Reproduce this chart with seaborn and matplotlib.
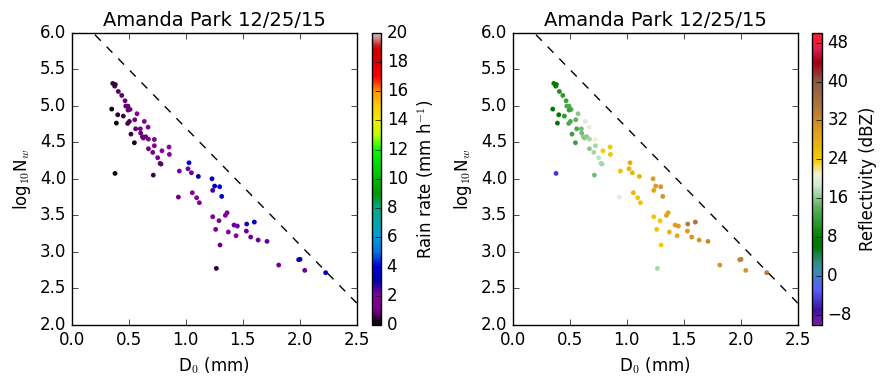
import matplotlib
matplotlib.use('Agg')
import matplotlib.pyplot as plt
import seaborn as sns
import numpy as np
import pandas as pd
from matplotlib.colors import LinearSegmentedColormap, Normalize
import matplotlib.cm as cm

# ---- data ----
d0 = [0.360, 0.383, 0.377, 0.409, 0.439, 0.468, 0.474, 0.494, 0.512, 0.494,
      0.351, 0.404, 0.453, 0.392, 0.491, 0.506, 0.573, 0.553, 0.637, 0.561,
      0.602, 0.670, 0.520, 0.605, 0.620, 0.629, 0.649, 0.673, 0.725, 0.550,
      0.725, 0.673, 0.711, 0.792, 0.854, 0.857, 0.754, 0.775, 0.784, 0.380,
      0.716, 0.944, 1.020, 1.050, 1.029, 1.111, 1.231, 1.254, 1.298, 1.237,
      1.316, 0.936, 1.058, 1.096, 1.120, 1.237, 1.263, 1.292, 1.348, 1.363,
      1.374, 1.424, 1.453, 1.535, 1.442, 1.532, 1.570, 1.635, 1.713, 1.602,
      1.301, 1.269, 1.816, 1.991, 2.003, 2.044, 2.228]
lognw = [5.307, 5.293, 5.270, 5.197, 5.143, 5.070, 4.997, 4.997, 4.951, 4.942,
         4.956, 4.878, 4.860, 4.764, 4.759, 4.787, 4.892, 4.810, 4.787, 4.686,
         4.686, 4.709, 4.613, 4.627, 4.577, 4.559, 4.577, 4.545, 4.540, 4.495,
         4.454, 4.413, 4.363, 4.385, 4.436, 4.335, 4.290, 4.212, 4.203, 4.075,
         4.052, 4.107, 4.139, 4.084, 4.221, 4.034, 4.002, 3.902, 3.893, 3.843,
         3.761, 3.751, 3.811, 3.742, 3.674, 3.482, 3.309, 3.428, 3.501, 3.537,
         3.273, 3.368, 3.355, 3.382, 3.222, 3.286, 3.204, 3.163, 3.145, 3.409,
         3.095, 2.775, 2.821, 2.894, 2.899, 2.748, 2.716]
rain = [0.5, 0.6, 0.5, 0.8, 0.8, 0.9, 0.9, 0.9, 0.9, 0.9,
        0.2, 0.3, 0.6, 0.2, 0.7, 0.7, 1.8, 1.2, 2.0, 0.8,
        1.2, 1.8, 0.6, 0.9, 1.0, 1.0, 1.0, 1.3, 1.9, 0.3,
        1.7, 1.2, 1.2, 2.0, 2.0, 2.0, 1.3, 1.0, 0.8, 0.1,
        0.6, 2.0, 2.2, 2.2, 3.8, 3.0, 3.2, 3.6, 3.8, 2.5,
        3.8, 1.0, 2.0, 2.0, 2.0, 1.5, 1.5, 1.6, 2.0, 2.0,
        1.8, 2.3, 2.3, 2.8, 2.0, 2.2, 2.2, 2.3, 2.3, 3.6,
        1.0, 0.4, 2.2, 3.0, 3.0, 2.2, 3.6]
refl = [7, 7, 8, 10, 11, 12, 13, 13, 13, 12,
        6, 6, 11, 6, 13, 13, 16, 14, 19, 13,
        15, 20, 12, 15, 16, 16, 16, 17, 21, 12,
        17, 16, 17, 24, 25, 25, 18, 17, 17, -5,
        15, 25, 27, 27, 28, 27, 30, 30, 31, 29,
        31, 20, 27, 25, 25, 25, 25, 24, 29, 29,
        27, 30, 30, 34, 28, 30, 31, 31, 32, 35,
        24, 17, 31, 33, 33, 31, 34]

line_x = [0.0, 2.5]
line_y = [6.3, 2.3]

title = 'Amanda Park 12/25/15'
rain_ticks = list(range(0, 21, 2))
refl_ticks = list(range(-8, 49, 8))

df = pd.DataFrame({'D0': d0, 'logNw': lognw, 'R': rain, 'Z': refl})

# reflectivity colormap (-10..50 dBZ)
zmin, zmax = -10.0, 50.0
znodes = [(-10, '#7b1fa2'), (-7, '#3a12a0'), (-3, '#5a5aff'), (1, '#3c8cb0'),
          (3, '#2f8a80'), (6, '#007800'), (8, '#008000'), (14, '#5cb05c'),
          (19, '#d8ecd8'), (21, '#f4f0d0'), (24, '#f5cc00'), (30, '#dc9c20'),
          (34, '#b87a38'), (40, '#8a5a48'), (42, '#9a2a30'), (44, '#a00010'),
          (47, '#e02050'), (50, '#ff2020')]
zcmap = LinearSegmentedColormap.from_list(
    'refl', [((v - zmin) / (zmax - zmin), c) for v, c in znodes])

plt.style.use('classic')
sns.set_style('ticks', {'xtick.direction': 'in', 'ytick.direction': 'in'})
plt.style.use('classic')
plt.rcParams.update({'figure.facecolor': 'white', 'savefig.facecolor': 'white',
                     'axes.facecolor': 'white',
                     'font.family': ['DejaVu Sans']})

fig = plt.figure(figsize=(8.86, 3.86), dpi=100)
ax1 = fig.add_axes([0.0809, 0.158, 0.3217, 0.757])
ax2 = fig.add_axes([0.5787, 0.158, 0.3217, 0.757])
cax1 = fig.add_axes([0.4195, 0.158, 0.0107, 0.757])
cax2 = fig.add_axes([0.9168, 0.158, 0.0107, 0.757])

sns.scatterplot(data=df, x='D0', y='logNw', hue='R', palette='nipy_spectral',
                hue_norm=(0, 20), s=12, linewidth=0, legend=False, ax=ax1, zorder=3)
sns.scatterplot(data=df, x='D0', y='logNw', hue='Z', palette=zcmap,
                hue_norm=(zmin, zmax), s=12, linewidth=0, legend=False, ax=ax2, zorder=3)

for ax in (ax1, ax2):
    ax.plot(line_x, line_y, 'k--', lw=1, dashes=(6, 6), zorder=4)
    ax.set_xlim(0, 2.5)
    ax.set_ylim(2.0, 6.0)
    ax.set_xticks([0.0, 0.5, 1.0, 1.5, 2.0, 2.5])
    ax.set_yticks(np.arange(2.0, 6.01, 0.5))
    ax.set_xlabel('D$_0$ (mm)', fontsize=12)
    ax.set_ylabel('log$_{10}$N$_w$', fontsize=12)
    ax.set_title(title, fontsize=14)
    ax.tick_params(labelsize=12)

cb1 = fig.colorbar(cm.ScalarMappable(norm=Normalize(0, 20), cmap='nipy_spectral'),
                   cax=cax1, ticks=rain_ticks)
cb1.set_label('Rain rate (mm h$^{-1}$)', fontsize=12)
cb2 = fig.colorbar(cm.ScalarMappable(norm=Normalize(zmin, zmax), cmap=zcmap),
                   cax=cax2, ticks=refl_ticks)
cb2.set_label('Reflectivity (dBZ)', fontsize=12)
for cb in (cb1, cb2):
    cb.ax.tick_params(labelsize=12)

fig.savefig('out.png', dpi=100)
